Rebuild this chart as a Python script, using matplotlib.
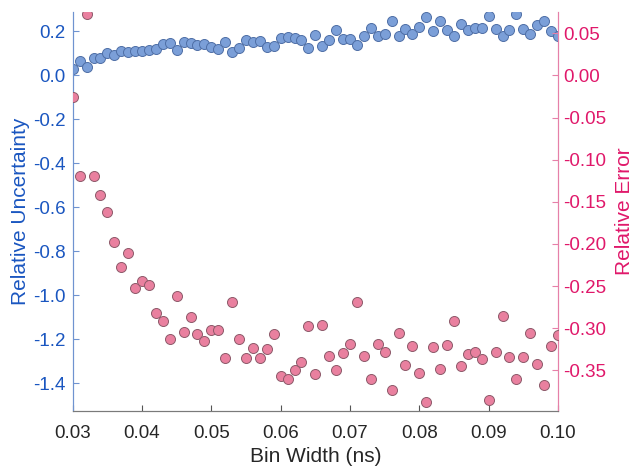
import numpy as np
import matplotlib.pyplot as plt

plt.rcParams['font.family'] = ['Liberation Sans', 'DejaVu Sans']

# Bin widths (ns)
bin_width = np.round(np.arange(0.030, 0.1005, 0.001), 3)

# Relative uncertainty (left axis)
rel_unc = [0.030, 0.065, 0.036, 0.079, 0.080, 0.099, 0.092, 0.109, 0.103, 0.111,
           0.108, 0.114, 0.120, 0.142, 0.147, 0.112, 0.150, 0.144, 0.139, 0.142,
           0.127, 0.121, 0.151, 0.103, 0.123, 0.158, 0.150, 0.155, 0.130, 0.132,
           0.171, 0.174, 0.167, 0.159, 0.124, 0.182, 0.131, 0.158, 0.203, 0.165,
           0.165, 0.138, 0.179, 0.214, 0.177, 0.185, 0.245, 0.180, 0.208, 0.185,
           0.220, 0.264, 0.199, 0.244, 0.203, 0.180, 0.232, 0.205, 0.212, 0.212,
           0.271, 0.210, 0.179, 0.203, 0.279, 0.210, 0.188, 0.229, 0.248, 0.201,
           0.177]

# Relative error (right axis)
rel_err = [-0.0254, -0.1196, 0.0732, -0.1200, -0.1425, -0.1620, -0.1980, -0.2270, -0.2110, -0.2526,
           -0.2440, -0.2490, -0.2815, -0.2914, -0.3124, -0.2613, -0.3045, -0.2870, -0.3064, -0.3147,
           -0.3025, -0.3017, -0.3360, -0.2689, -0.3124, -0.3350, -0.3235, -0.3354, -0.3243, -0.3069,
           -0.3570, -0.3607, -0.3500, -0.3400, -0.2980, -0.3540, -0.2957, -0.3325, -0.3496, -0.3298,
           -0.3191, -0.2692, -0.3330, -0.3599, -0.3183, -0.3286, -0.3729, -0.3052, -0.3432, -0.3215,
           -0.3532, -0.3880, -0.3219, -0.3484, -0.3195, -0.2918, -0.3453, -0.3302, -0.3286, -0.3369,
           -0.3853, -0.3286, -0.2850, -0.3342, -0.3599, -0.3342, -0.3057, -0.3425, -0.3678, -0.3207,
           -0.3076]

blue = '#1a56c0'
pink = '#e0186a'

fig = plt.figure(figsize=(6.35, 4.71), dpi=100)
ax = fig.add_axes([0.1145, 0.128, 0.7642, 0.847])
ax2 = ax.twinx()

ax.scatter(bin_width, rel_unc, s=52, color='#7b9fd8', edgecolor='#4f6fa6', linewidth=0.7, zorder=3)
ax2.scatter(bin_width, rel_err, s=52, color='#e9809f', edgecolor='#8d5a6a', linewidth=0.7, zorder=3)

ax.set_xlim(0.03, 0.10)
ax.set_ylim(-1.526, 0.288)
ax2.set_ylim(-0.398, 0.0755)

xt = np.round(np.arange(0.03, 0.1001, 0.01), 2)
yt = np.round(np.arange(-1.4, 0.21, 0.2), 1) + 0.0
y2t = np.round(np.arange(-0.35, 0.051, 0.05), 2) + 0.0
ax.set_xticks(xt)
ax.set_xticklabels([f'{v:.2f}' for v in xt])
ax.set_yticks(yt)
ax.set_yticklabels([f'{v:.1f}' for v in yt])
ax2.set_yticks(y2t)
ax2.set_yticklabels([f'{v:.2f}' for v in y2t])

ax.set_xlabel('Bin Width (ns)', fontsize=15, color='#262626', labelpad=4)
ax.set_ylabel('Relative Uncertainty', fontsize=15, color=blue, labelpad=2)
ax2.set_ylabel('Relative Error', fontsize=15, color=pink, labelpad=6)

for a in (ax, ax2):
    a.spines['top'].set_visible(False)
    a.spines['bottom'].set_color('#7a7a7a')
    a.spines['left'].set_color('#6f93d0')
    a.spines['right'].set_color('#e680a8')
ax.tick_params(axis='x', direction='in', length=4, colors='#555555', labelcolor='#262626',
               labelsize=13.5, pad=10)
ax.tick_params(axis='y', direction='in', length=4, colors='#6f93d0', labelcolor=blue,
               labelsize=13.5, pad=5)
ax2.tick_params(axis='y', direction='in', length=4, colors='#e680a8', labelcolor=pink,
                labelsize=13.5, pad=4)

fig.savefig('out.png', dpi=100)
